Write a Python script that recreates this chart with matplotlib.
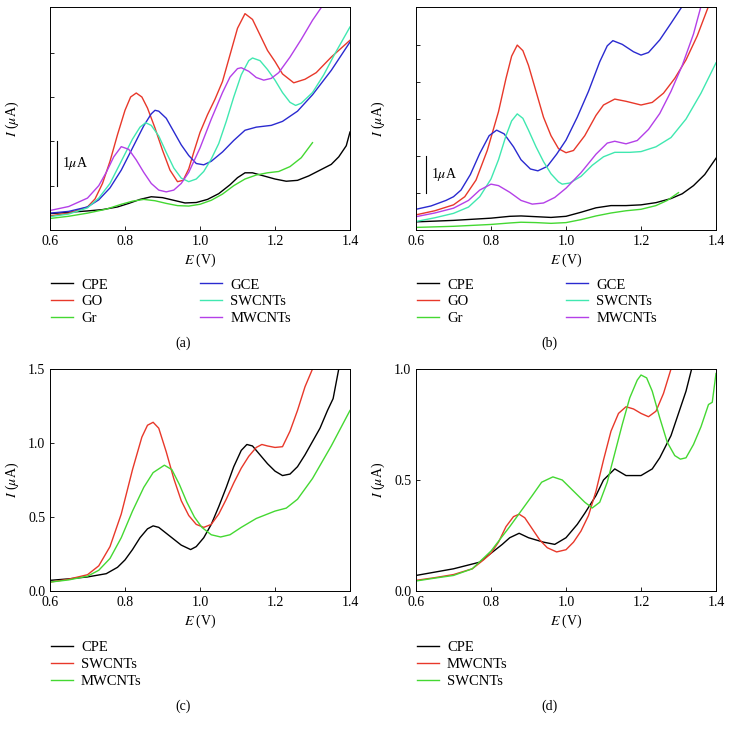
import matplotlib
matplotlib.use("Agg")
import matplotlib.pyplot as plt

plt.rcParams['font.family'] = ['Liberation Serif', 'DejaVu Serif']
plt.rcParams['mathtext.fontset'] = 'stix'

# colours
c_black = '#000000'
c_red = '#e8382a'
c_green = '#44d832'
c_blue = '#2a2ad0'
c_cyan = '#40e8b0'
c_mag = '#b440e8'

# ---------- panel (a) ----------
cpe_a_x = [0.60, 0.65, 0.70, 0.74, 0.78, 0.81, 0.84, 0.87, 0.90, 0.93, 0.96, 0.99, 1.02, 1.05, 1.08, 1.10, 1.12, 1.14, 1.17, 1.20, 1.23, 1.26, 1.29, 1.32, 1.35, 1.37, 1.39, 1.40]
cpe_a_y = [0.37, 0.40, 0.43, 0.46, 0.52, 0.60, 0.69, 0.75, 0.73, 0.67, 0.61, 0.62, 0.69, 0.82, 1.02, 1.18, 1.29, 1.29, 1.22, 1.15, 1.10, 1.12, 1.22, 1.35, 1.48, 1.65, 1.90, 2.21]
go_a_x = [0.60, 0.65, 0.70, 0.72, 0.74, 0.76, 0.78, 0.80, 0.815, 0.83, 0.845, 0.86, 0.88, 0.90, 0.92, 0.94, 0.955, 0.97, 0.985, 1.00, 1.02, 1.04, 1.06, 1.08, 1.10, 1.12, 1.14, 1.16, 1.18, 1.20, 1.22, 1.25, 1.28, 1.31, 1.35, 1.40]
go_a_y = [0.32, 0.38, 0.52, 0.70, 1.05, 1.55, 2.15, 2.70, 3.00, 3.09, 3.00, 2.75, 2.30, 1.80, 1.35, 1.09, 1.12, 1.38, 1.80, 2.20, 2.60, 2.95, 3.35, 3.95, 4.55, 4.88, 4.75, 4.40, 4.05, 3.80, 3.52, 3.32, 3.40, 3.55, 3.90, 4.28]
gr_a_x = [0.60, 0.65, 0.70, 0.75, 0.79, 0.82, 0.85, 0.88, 0.91, 0.94, 0.97, 1.00, 1.03, 1.06, 1.09, 1.12, 1.15, 1.18, 1.21, 1.24, 1.27, 1.30]
gr_a_y = [0.26, 0.31, 0.38, 0.47, 0.58, 0.65, 0.69, 0.66, 0.60, 0.55, 0.54, 0.58, 0.67, 0.81, 1.00, 1.15, 1.24, 1.29, 1.32, 1.43, 1.63, 1.97]
gce_a_x = [0.60, 0.65, 0.70, 0.73, 0.76, 0.79, 0.82, 0.85, 0.87, 0.88, 0.89, 0.91, 0.93, 0.95, 0.97, 0.99, 1.01, 1.03, 1.06, 1.09, 1.12, 1.15, 1.19, 1.22, 1.26, 1.30, 1.35, 1.40]
gce_a_y = [0.38, 0.42, 0.52, 0.68, 0.95, 1.35, 1.85, 2.35, 2.62, 2.70, 2.68, 2.52, 2.22, 1.92, 1.68, 1.50, 1.47, 1.55, 1.76, 2.02, 2.25, 2.32, 2.36, 2.45, 2.68, 3.05, 3.60, 4.24]
sw_a_x = [0.60, 0.65, 0.70, 0.73, 0.76, 0.79, 0.82, 0.84, 0.855, 0.87, 0.89, 0.91, 0.93, 0.95, 0.97, 0.99, 1.01, 1.03, 1.05, 1.07, 1.09, 1.11, 1.13, 1.14, 1.16, 1.18, 1.20, 1.22, 1.24, 1.255, 1.27, 1.30, 1.33, 1.36, 1.40]
sw_a_y = [0.30, 0.36, 0.50, 0.72, 1.05, 1.55, 2.05, 2.32, 2.42, 2.36, 2.12, 1.75, 1.40, 1.17, 1.09, 1.15, 1.32, 1.60, 1.95, 2.45, 3.00, 3.50, 3.82, 3.88, 3.82, 3.62, 3.38, 3.10, 2.88, 2.81, 2.86, 3.10, 3.50, 3.98, 4.58]
mw_a_x = [0.60, 0.65, 0.70, 0.73, 0.75, 0.77, 0.79, 0.81, 0.83, 0.85, 0.87, 0.89, 0.91, 0.93, 0.95, 0.97, 1.00, 1.03, 1.06, 1.08, 1.10, 1.11, 1.13, 1.15, 1.17, 1.19, 1.21, 1.24, 1.27, 1.30, 1.33]
mw_a_y = [0.44, 0.53, 0.72, 1.00, 1.30, 1.65, 1.88, 1.82, 1.58, 1.30, 1.05, 0.90, 0.86, 0.90, 1.05, 1.30, 1.85, 2.50, 3.10, 3.45, 3.64, 3.66, 3.58, 3.44, 3.38, 3.42, 3.55, 3.90, 4.30, 4.73, 5.10]

# ---------- panel (b) ----------
cpe_b_x = [0.60, 0.70, 0.80, 0.85, 0.88, 0.92, 0.96, 1.00, 1.04, 1.08, 1.12, 1.16, 1.20, 1.24, 1.28, 1.31, 1.34, 1.37, 1.40]
cpe_b_y = [0.22, 0.26, 0.32, 0.37, 0.38, 0.36, 0.34, 0.37, 0.48, 0.60, 0.66, 0.66, 0.68, 0.74, 0.85, 0.98, 1.20, 1.50, 1.94]
go_b_x = [0.60, 0.65, 0.70, 0.73, 0.76, 0.79, 0.82, 0.84, 0.855, 0.87, 0.885, 0.90, 0.92, 0.94, 0.96, 0.98, 1.00, 1.02, 1.05, 1.08, 1.10, 1.13, 1.16, 1.20, 1.23, 1.26, 1.29, 1.32, 1.35, 1.38]
go_b_y = [0.41, 0.52, 0.68, 0.90, 1.35, 2.15, 3.20, 4.10, 4.70, 5.00, 4.85, 4.45, 3.75, 3.05, 2.55, 2.20, 2.09, 2.15, 2.55, 3.10, 3.38, 3.54, 3.48, 3.38, 3.45, 3.70, 4.10, 4.60, 5.25, 6.05]
gr_b_x = [0.60, 0.70, 0.80, 0.85, 0.88, 0.92, 0.96, 1.00, 1.04, 1.08, 1.12, 1.16, 1.20, 1.24, 1.27, 1.30]
gr_b_y = [0.07, 0.10, 0.15, 0.19, 0.21, 0.20, 0.18, 0.20, 0.28, 0.38, 0.46, 0.52, 0.56, 0.66, 0.80, 1.01]
gce_b_x = [0.60, 0.64, 0.68, 0.70, 0.72, 0.745, 0.77, 0.795, 0.815, 0.835, 0.86, 0.88, 0.905, 0.925, 0.95, 0.975, 1.00, 1.03, 1.06, 1.09, 1.11, 1.125, 1.15, 1.18, 1.20, 1.22, 1.25, 1.28, 1.31]
gce_b_y = [0.56, 0.65, 0.80, 0.90, 1.08, 1.50, 2.07, 2.55, 2.70, 2.60, 2.25, 1.90, 1.65, 1.60, 1.72, 2.05, 2.43, 3.05, 3.75, 4.55, 4.98, 5.12, 5.02, 4.82, 4.73, 4.80, 5.14, 5.59, 6.05]
sw_b_x = [0.60, 0.65, 0.70, 0.74, 0.77, 0.80, 0.82, 0.84, 0.855, 0.87, 0.885, 0.90, 0.92, 0.94, 0.96, 0.98, 0.99, 1.01, 1.04, 1.07, 1.10, 1.13, 1.17, 1.20, 1.24, 1.28, 1.32, 1.36, 1.40]
sw_b_y = [0.23, 0.33, 0.45, 0.62, 0.90, 1.38, 1.90, 2.55, 2.95, 3.14, 3.02, 2.70, 2.25, 1.85, 1.52, 1.30, 1.24, 1.27, 1.45, 1.75, 1.98, 2.10, 2.10, 2.12, 2.25, 2.50, 3.00, 3.70, 4.52]
mw_b_x = [0.60, 0.65, 0.70, 0.74, 0.77, 0.80, 0.82, 0.85, 0.88, 0.91, 0.94, 0.97, 1.00, 1.04, 1.08, 1.11, 1.13, 1.16, 1.19, 1.22, 1.25, 1.28, 1.31, 1.34, 1.36]
mw_b_y = [0.36, 0.46, 0.59, 0.80, 1.08, 1.24, 1.20, 1.02, 0.80, 0.70, 0.73, 0.88, 1.13, 1.55, 2.05, 2.35, 2.40, 2.33, 2.42, 2.72, 3.15, 3.75, 4.45, 5.30, 6.05]

# ---------- panel (c) ----------
cpe_c_x = [0.60, 0.65, 0.70, 0.75, 0.78, 0.80, 0.82, 0.84, 0.86, 0.875, 0.89, 0.91, 0.93, 0.95, 0.975, 0.99, 1.01, 1.03, 1.05, 1.07, 1.09, 1.11, 1.125, 1.14, 1.16, 1.18, 1.20, 1.22, 1.24, 1.26, 1.28, 1.30, 1.32, 1.34, 1.355, 1.37]
cpe_c_y = [0.072, 0.082, 0.095, 0.117, 0.16, 0.21, 0.28, 0.36, 0.42, 0.44, 0.43, 0.39, 0.35, 0.31, 0.28, 0.30, 0.36, 0.45, 0.57, 0.70, 0.84, 0.95, 0.99, 0.98, 0.92, 0.86, 0.81, 0.78, 0.79, 0.84, 0.92, 1.01, 1.10, 1.22, 1.30, 1.50]
sw_c_x = [0.60, 0.65, 0.70, 0.73, 0.76, 0.79, 0.82, 0.845, 0.86, 0.875, 0.89, 0.91, 0.93, 0.95, 0.97, 0.99, 1.01, 1.03, 1.05, 1.07, 1.09, 1.11, 1.13, 1.15, 1.165, 1.18, 1.20, 1.22, 1.24, 1.26, 1.28, 1.30]
sw_c_y = [0.06, 0.08, 0.11, 0.17, 0.30, 0.52, 0.82, 1.04, 1.12, 1.14, 1.10, 0.94, 0.76, 0.61, 0.51, 0.45, 0.43, 0.45, 0.52, 0.62, 0.73, 0.83, 0.91, 0.97, 0.99, 0.98, 0.97, 0.975, 1.08, 1.22, 1.38, 1.50]
mw_c_x = [0.60, 0.65, 0.70, 0.73, 0.76, 0.79, 0.82, 0.85, 0.875, 0.905, 0.925, 0.945, 0.965, 0.985, 1.005, 1.03, 1.055, 1.08, 1.11, 1.15, 1.20, 1.23, 1.26, 1.30, 1.35, 1.40]
mw_c_y = [0.06, 0.075, 0.10, 0.14, 0.22, 0.36, 0.54, 0.70, 0.80, 0.85, 0.82, 0.72, 0.60, 0.50, 0.43, 0.38, 0.365, 0.38, 0.43, 0.49, 0.54, 0.56, 0.62, 0.76, 0.98, 1.22]

# ---------- panel (d) ----------
cpe_d_x = [0.60, 0.65, 0.70, 0.77, 0.80, 0.83, 0.85, 0.875, 0.90, 0.94, 0.97, 1.00, 1.03, 1.05, 1.08, 1.10, 1.13, 1.16, 1.20, 1.23, 1.25, 1.28, 1.30, 1.32, 1.335]
cpe_d_y = [0.07, 0.085, 0.10, 0.13, 0.17, 0.21, 0.24, 0.26, 0.24, 0.22, 0.21, 0.24, 0.30, 0.35, 0.43, 0.50, 0.55, 0.52, 0.52, 0.55, 0.60, 0.70, 0.80, 0.90, 1.00]
mw_d_x = [0.60, 0.65, 0.70, 0.75, 0.78, 0.80, 0.82, 0.84, 0.86, 0.875, 0.89, 0.91, 0.93, 0.95, 0.975, 1.00, 1.02, 1.04, 1.06, 1.08, 1.10, 1.12, 1.14, 1.16, 1.18, 1.20, 1.22, 1.24, 1.26, 1.28]
mw_d_y = [0.048, 0.06, 0.074, 0.10, 0.14, 0.17, 0.22, 0.29, 0.335, 0.346, 0.33, 0.28, 0.23, 0.195, 0.176, 0.186, 0.22, 0.27, 0.34, 0.45, 0.59, 0.72, 0.80, 0.83, 0.82, 0.80, 0.785, 0.81, 0.89, 1.00]
sw_d_x = [0.60, 0.65, 0.70, 0.75, 0.80, 0.85, 0.88, 0.91, 0.935, 0.965, 0.99, 1.02, 1.05, 1.07, 1.09, 1.11, 1.13, 1.15, 1.17, 1.19, 1.20, 1.215, 1.23, 1.25, 1.27, 1.29, 1.305, 1.32, 1.34, 1.36, 1.38, 1.39, 1.40]
sw_d_y = [0.045, 0.058, 0.07, 0.10, 0.18, 0.29, 0.36, 0.43, 0.49, 0.514, 0.50, 0.45, 0.40, 0.374, 0.40, 0.49, 0.62, 0.75, 0.87, 0.95, 0.973, 0.96, 0.90, 0.78, 0.67, 0.61, 0.594, 0.60, 0.66, 0.74, 0.84, 0.85, 0.98]

xticks = [0.6, 0.8, 1.0, 1.2, 1.4]

W = 732.0
FS_TICK = 10
FS_LEG = 10.5
fig = plt.figure(figsize=(7.32, 7.32), dpi=100)


def make_ax(left_px, top_px, right_px, bottom_px):
    ax = fig.add_axes([left_px / W, 1 - bottom_px / W, (right_px - left_px) / W, (bottom_px - top_px) / W])
    ax.set_xlim(0.6, 1.4)
    ax.set_xticks(xticks)
    ax.set_xticklabels(['%.1f' % v for v in xticks])
    ax.tick_params(direction='in', length=3, width=0.6, labelsize=FS_TICK)
    for s in ax.spines.values():
        s.set_linewidth(0.7)
    ax.set_xlabel('$E$ (V)', fontsize=FS_TICK, labelpad=3)
    ax.set_ylabel('$I$ ($\\mu$A)', fontsize=FS_TICK)
    ax.yaxis.set_label_coords(-0.097, 0.5)
    return ax


def add_legend(ax, ncol, yoff):
    ax.legend(loc='upper left', bbox_to_anchor=(-0.04, yoff), ncol=ncol, frameon=False,
              handlelength=1.5, handletextpad=0.55, columnspacing=6.35, labelspacing=0.25,
              fontsize=FS_LEG)


lw = 1.0

# (a)
ax = make_ax(50, 7, 350, 230)
ax.plot(cpe_a_x, cpe_a_y, color=c_black, lw=lw, label='CPE')
ax.plot(go_a_x, go_a_y, color=c_red, lw=lw, label='GO')
ax.plot(gr_a_x, gr_a_y, color=c_green, lw=lw, label='Gr')
ax.plot(gce_a_x, gce_a_y, color=c_blue, lw=lw, label='GCE')
ax.plot(sw_a_x, sw_a_y, color=c_cyan, lw=lw, label='SWCNTs')
ax.plot(mw_a_x, mw_a_y, color=c_mag, lw=lw, label='MWCNTs')
ax.set_ylim(0, 5.03)
ax.set_yticks([1, 2, 3, 4])
ax.set_yticklabels([])
ax.plot([0.619, 0.619], [1, 2], color='black', lw=0.8)
ax.text(0.632, 1.5, '1$\\mu$A', fontsize=FS_TICK, va='center')
add_legend(ax, 2, -0.158)
fig.text(183 / W, 1 - 343 / W, '(a)', ha='center', va='center', fontsize=FS_TICK)

# (b)
ax = make_ax(416, 7, 716, 230)
ax.plot(cpe_b_x, cpe_b_y, color=c_black, lw=lw, label='CPE')
ax.plot(go_b_x, go_b_y, color=c_red, lw=lw, label='GO')
ax.plot(gr_b_x, gr_b_y, color=c_green, lw=lw, label='Gr')
ax.plot(gce_b_x, gce_b_y, color=c_blue, lw=lw, label='GCE')
ax.plot(sw_b_x, sw_b_y, color=c_cyan, lw=lw, label='SWCNTs')
ax.plot(mw_b_x, mw_b_y, color=c_mag, lw=lw, label='MWCNTs')
ax.set_ylim(0, 6.03)
ax.set_yticks([1, 2, 3, 4, 5])
ax.set_yticklabels([])
ax.plot([0.627, 0.627], [1, 2], color='black', lw=0.8)
ax.text(0.64, 1.5, '1$\\mu$A', fontsize=FS_TICK, va='center')
add_legend(ax, 2, -0.158)
fig.text(549 / W, 1 - 343 / W, '(b)', ha='center', va='center', fontsize=FS_TICK)

# (c)
ax = make_ax(50, 369, 350, 591)
ax.plot(cpe_c_x, cpe_c_y, color=c_black, lw=lw, label='CPE')
ax.plot(sw_c_x, sw_c_y, color=c_red, lw=lw, label='SWCNTs')
ax.plot(mw_c_x, mw_c_y, color=c_green, lw=lw, label='MWCNTs')
ax.set_ylim(0, 1.5)
ax.set_yticks([0.0, 0.5, 1.0, 1.5])
ax.set_yticklabels(['0.0', '0.5', '1.0', '1.5'])
add_legend(ax, 1, -0.165)
fig.text(183 / W, 1 - 706 / W, '(c)', ha='center', va='center', fontsize=FS_TICK)

# (d)
ax = make_ax(416, 369, 716, 591)
ax.plot(cpe_d_x, cpe_d_y, color=c_black, lw=lw, label='CPE')
ax.plot(mw_d_x, mw_d_y, color=c_red, lw=lw, label='MWCNTs')
ax.plot(sw_d_x, sw_d_y, color=c_green, lw=lw, label='SWCNTs')
ax.set_ylim(0, 1.0)
ax.set_yticks([0.0, 0.5, 1.0])
ax.set_yticklabels(['0.0', '0.5', '1.0'])
add_legend(ax, 1, -0.165)
fig.text(549 / W, 1 - 706 / W, '(d)', ha='center', va='center', fontsize=FS_TICK)

fig.savefig('out.png', dpi=100)
